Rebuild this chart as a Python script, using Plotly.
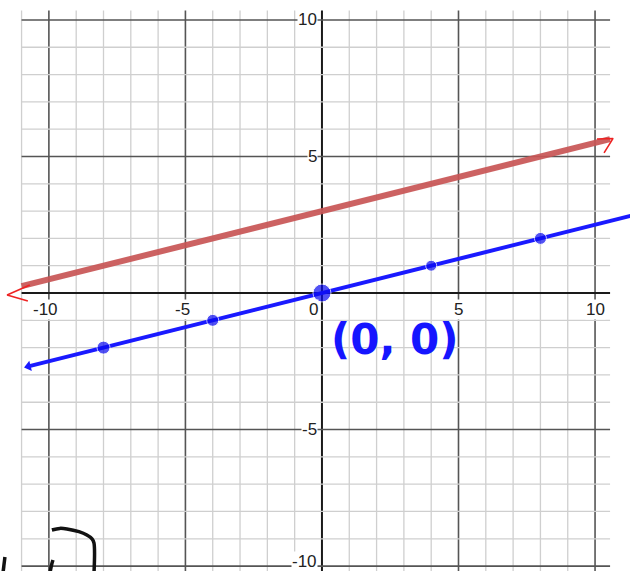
import numpy as np
import plotly.graph_objects as go

# Two parallel lines y = m*x + b
slope = 0.25
red_intercept = 3
blue_intercept = 0

red_x_range = [-11.0, 10.55]
blue_x_range = [-10.75, 11.5]

# Points plotted on the blue line
point_x = [-8, -4, 0, 4, 8]
point_y = [-2, -1, 0, 1, 2]
point_size = [13, 12, 18, 11, 12]

# Axis tick labels
x_tick_vals = [-10, -5, 0, 5, 10]
x_tick_text = ["-10", "-5", "0", "5", "10"]
y_tick_vals = [10, 5, -5, -10]
y_tick_text = ["10", "5", "-5", "-10"]

# Grid extent
grid_x = list(range(-11, 11))
grid_y = list(range(-10, 11))
grid_left, grid_right = -11.0, 10.55
grid_top, grid_bottom = 10.35, -10.6

# Hand-drawn ink strokes (data units)
red_left_chevron = ([-10.7, -11.53, -10.77], [0.29, -0.07, -0.29])
red_right_chevron = ([10.07, 10.66, 10.33], [5.64, 5.66, 5.13])
black_strokes = [
    ([-11.61, -11.68], [-9.67, -10.25]),
    ([-9.89, -9.6, -9.34, -8.9, -8.61, -8.42, -8.35, -8.35], [-8.68, -8.62, -8.64, -8.74, -8.86, -9.0, -9.15, -10.3]),
    ([-9.85, -9.9, -9.96], [-9.78, -9.95, -10.25]),
]

fig = go.Figure()

shapes = []
for gx in grid_x:
    major = gx % 5 == 0
    if gx == 0:
        color, width = "#1a1a1a", 2
    elif major:
        color, width = "#555555", 1.6
    else:
        color, width = "#cfcfcf", 1.3
    shapes.append(dict(type="line", xref="x", yref="y", x0=gx, x1=gx,
                       y0=grid_bottom, y1=grid_top, line=dict(color=color, width=width),
                       layer="below"))
for gy in grid_y:
    major = gy % 5 == 0
    if gy == 0:
        color, width = "#1a1a1a", 2
    elif major:
        color, width = "#555555", 1.6
    else:
        color, width = "#cfcfcf", 1.3
    shapes.append(dict(type="line", xref="x", yref="y", x0=grid_left, x1=grid_right,
                       y0=gy, y1=gy, line=dict(color=color, width=width),
                       layer="below"))

# Red line
rx = np.array(red_x_range)
fig.add_trace(go.Scatter(x=rx, y=slope * rx + red_intercept, mode="lines",
                         line=dict(color="rgba(200,85,85,0.92)", width=6),
                         hoverinfo="skip", showlegend=False))
for cx, cy in (red_left_chevron, red_right_chevron):
    fig.add_trace(go.Scatter(x=cx, y=cy, mode="lines",
                             line=dict(color="#ee2222", width=1.6),
                             hoverinfo="skip", showlegend=False))

# Blue line with arrowhead at the left end
bx = np.array(blue_x_range)
fig.add_trace(go.Scatter(x=bx, y=slope * bx + blue_intercept, mode="lines",
                         line=dict(color="#1a1aff", width=4),
                         hoverinfo="skip", showlegend=False))
fig.add_trace(go.Scatter(x=[bx[0]], y=[slope * bx[0] + blue_intercept], mode="markers",
                         marker=dict(symbol="triangle-left", size=9, color="#1a1aff",
                                     angle=-np.degrees(np.arctan(slope))),
                         hoverinfo="skip", showlegend=False))
fig.add_trace(go.Scatter(x=point_x, y=point_y, mode="markers",
                         marker=dict(size=point_size, color="#0a0af0"),
                         hoverinfo="skip", showlegend=False))

for sx, sy in black_strokes:
    fig.add_trace(go.Scatter(x=sx, y=sy, mode="lines",
                             line=dict(color="#111111", width=3.5, shape="spline"),
                             hoverinfo="skip", showlegend=False))

label_font = dict(family="Liberation Sans", size=17, color="#222")
annotations = []
for v, t in zip(x_tick_vals, x_tick_text):
    if v == 0:
        annotations.append(dict(x=0, y=0, text=t, xref="x", yref="y", showarrow=False,
                                xanchor="right", yanchor="top", xshift=-3, yshift=-6,
                                font=label_font, bgcolor="white", borderpad=0))
    else:
        annotations.append(dict(x=v, y=0, text=t, xref="x", yref="y", showarrow=False,
                                xanchor="center", yanchor="top", yshift=-6,
                                xshift=-3 if v < 0 else 0,
                                font=label_font, bgcolor="white", borderpad=0))
for v, t in zip(y_tick_vals, y_tick_text):
    annotations.append(dict(x=0, y=v, text=t, xref="x", yref="y", showarrow=False,
                            xanchor="right", yanchor="middle", xshift=-4,
                            yshift=5 if v == -10 else 0,
                            font=label_font, bgcolor="white", borderpad=0))

annotations.append(dict(x=2.64, y=-1.72, text="<b>(0, 0)</b>", xref="x", yref="y", showarrow=False,
                        xanchor="center", yanchor="middle",
                        font=dict(family="DejaVu Sans", size=42, color="#1515ff")))

fig.update_layout(
    width=630, height=571,
    margin=dict(l=0, r=0, t=0, b=0),
    paper_bgcolor="white", plot_bgcolor="white",
    xaxis=dict(range=[-11.79, 11.28], visible=False, fixedrange=True),
    yaxis=dict(range=[-10.18, 10.73], visible=False, fixedrange=True),
    shapes=shapes,
    annotations=annotations,
)

fig.write_html("out.html")
